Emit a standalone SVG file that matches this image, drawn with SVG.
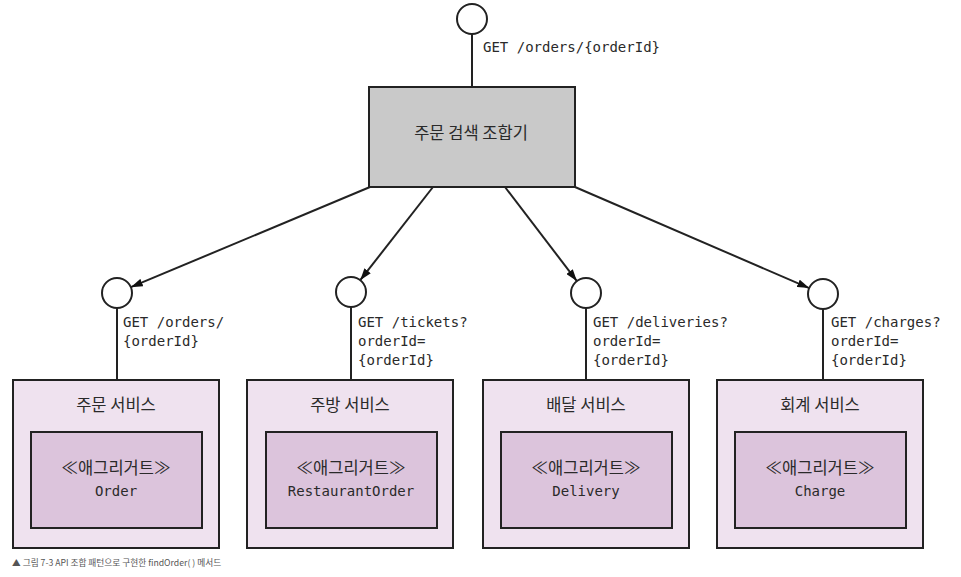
<svg xmlns="http://www.w3.org/2000/svg" width="961" height="577" viewBox="0 0 961 577">
<style>
.kr{font-family:"Noto Sans CJK KR","Noto Sans",sans-serif;font-size:16.5px;fill:#2a2a2a;text-anchor:middle}
.mono{font-family:"DejaVu Sans Mono","Liberation Mono",monospace;font-size:14px;fill:#2a2a2a}
.mc{text-anchor:middle}
.outer{fill:#efe2ef;stroke:#222;stroke-width:2}
.inner{fill:#dcc4dc;stroke:#222;stroke-width:2}
.agg{fill:#c9c9c9;stroke:#222;stroke-width:2}
.port{fill:#fff;stroke:#222;stroke-width:2}
.ln{stroke:#222;stroke-width:2;fill:none}
.cap{font-family:"Noto Sans CJK KR","Noto Sans",sans-serif;font-size:8.7px;fill:#555}
</style>
<defs>
<marker id="ah" viewBox="0 0 12 8" refX="12" refY="4" markerWidth="12" markerHeight="8" markerUnits="userSpaceOnUse" orient="auto">
<path d="M0,0 L12,4 L0,8 Z" fill="#111"/>
</marker>
</defs>
<rect width="961" height="577" fill="#fff"/>
<g id="connectors">
<line class="ln" x1="472" y1="34" x2="472" y2="87"/>
<line class="ln" x1="117" y1="308" x2="117" y2="380"/>
<line class="ln" x1="351" y1="307" x2="351" y2="380"/>
<line class="ln" x1="586" y1="308" x2="586" y2="380"/>
<line class="ln" x1="823" y1="309" x2="823" y2="380"/>
<line class="ln" x1="370" y1="187" x2="130.8" y2="287.2" marker-end="url(#ah)"/>
<line class="ln" x1="433" y1="187" x2="360.2" y2="280.2" marker-end="url(#ah)"/>
<line class="ln" x1="505" y1="187" x2="576.9" y2="281.1" marker-end="url(#ah)"/>
<line class="ln" x1="575" y1="187" x2="809.2" y2="288.1" marker-end="url(#ah)"/>
</g>
<g id="port-top">
<circle class="port" cx="472" cy="19" r="15"/>
<text class="mono" x="483" y="52">GET /orders/{orderId}</text>
</g>
<g id="aggregator">
<rect class="agg" x="369" y="87" width="206" height="100"/>
<text class="kr" x="471" y="139">주문 검색 조합기</text>
</g>
<g id="port-order">
<circle class="port" cx="117" cy="293" r="15"/>
<text class="mono" x="123" y="327">GET /orders/</text>
<text class="mono" x="123" y="346">{orderId}</text>
</g>
<g id="port-kitchen">
<circle class="port" cx="351" cy="292" r="15"/>
<text class="mono" x="358" y="327">GET /tickets?</text>
<text class="mono" x="358" y="346">orderId=</text>
<text class="mono" x="358" y="365">{orderId}</text>
</g>
<g id="port-delivery">
<circle class="port" cx="586" cy="293" r="15"/>
<text class="mono" x="593" y="327">GET /deliveries?</text>
<text class="mono" x="593" y="346">orderId=</text>
<text class="mono" x="593" y="365">{orderId}</text>
</g>
<g id="port-accounting">
<circle class="port" cx="823" cy="294" r="15"/>
<text class="mono" x="831" y="327">GET /charges?</text>
<text class="mono" x="831" y="346">orderId=</text>
<text class="mono" x="831" y="365">{orderId}</text>
</g>
<g id="order-service">
<rect class="outer" x="13" y="380" width="206" height="168"/>
<text class="kr" x="116" y="411">주문 서비스</text>
<rect class="inner" x="31" y="432" width="171" height="96"/>
<text class="kr" x="116" y="474">≪애그리거트≫</text>
<text class="mono mc" x="116" y="496">Order</text>
</g>
<g id="kitchen-service">
<rect class="outer" x="247" y="380" width="206" height="168"/>
<text class="kr" x="350" y="411">주방 서비스</text>
<rect class="inner" x="266" y="432" width="171" height="96"/>
<text class="kr" x="351" y="474">≪애그리거트≫</text>
<text class="mono mc" x="351" y="496">RestaurantOrder</text>
</g>
<g id="delivery-service">
<rect class="outer" x="483" y="380" width="206" height="168"/>
<text class="kr" x="586" y="411">배달 서비스</text>
<rect class="inner" x="501" y="432" width="171" height="96"/>
<text class="kr" x="586" y="474">≪애그리거트≫</text>
<text class="mono mc" x="586" y="496">Delivery</text>
</g>
<g id="accounting-service">
<rect class="outer" x="717" y="380" width="206" height="168"/>
<text class="kr" x="820" y="411">회계 서비스</text>
<rect class="inner" x="735" y="432" width="171" height="96"/>
<text class="kr" x="820" y="474">≪애그리거트≫</text>
<text class="mono mc" x="820" y="496">Charge</text>
</g>
<text class="cap" x="12" y="566">▲ 그림 7-3 API 조합 패턴으로 구현한 findOrder( ) 메서드</text>
</svg>
